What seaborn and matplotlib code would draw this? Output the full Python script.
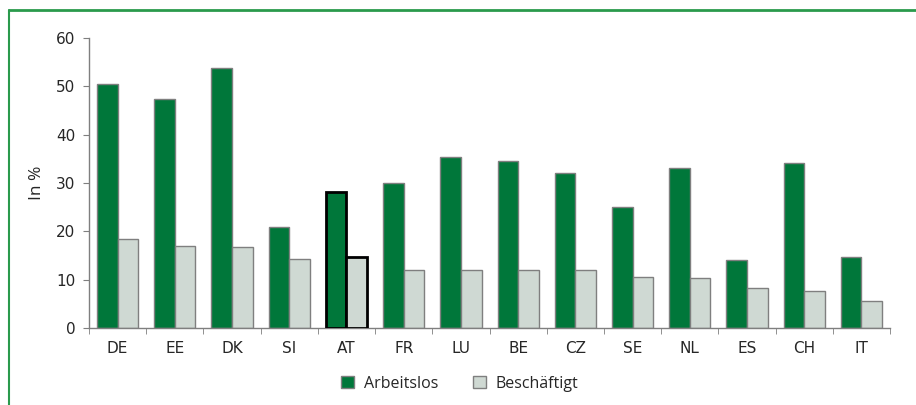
import numpy as np
import pandas as pd
import matplotlib.pyplot as plt
import seaborn as sns
from matplotlib.lines import Line2D

# Werte
countries = ['DE', 'EE', 'DK', 'SI', 'AT', 'FR', 'LU', 'BE', 'CZ', 'SE', 'NL', 'ES', 'CH', 'IT']
arbeitslos = [50.5, 47.3, 53.8, 21.0, 28.2, 30.1, 35.3, 34.5, 32.1, 25.1, 33.1, 14.1, 34.1, 14.6]
beschaeftigt = [18.4, 17.0, 16.7, 14.3, 14.6, 12.0, 12.0, 12.0, 12.0, 10.6, 10.4, 8.2, 7.6, 5.6]
series_names = ['Arbeitslos', 'Beschäftigt']

df = pd.DataFrame({
    'Land': countries * 2,
    'Wert': arbeitslos + beschaeftigt,
    'Gruppe': [series_names[0]] * len(countries) + [series_names[1]] * len(countries),
})

sns.set_style('white')
plt.rcParams['font.family'] = ['DejaVu Sans']

green = '#00773a'
light = '#cfd9d3'
edge = '#7f7f7f'

fig = plt.figure(figsize=(9.16, 4.05), dpi=100)
ax = fig.add_axes([0.0972, 0.190, 0.8744, 0.716])

sns.barplot(data=df, x='Land', y='Wert', hue='Gruppe', order=countries,
            hue_order=series_names, palette=[green, light], width=0.72,
            edgecolor=edge, linewidth=1, saturation=1, ax=ax)

# AT hervorheben
hl = countries.index('AT')
for cont in ax.containers:
    cont.patches[hl].set_edgecolor('black')
    cont.patches[hl].set_linewidth(2)
    cont.patches[hl].set_zorder(3)

ax.set_ylim(0, 60)
ax.set_yticks(np.arange(0, 61, 10))
ax.set_xlim(-0.5, len(countries) - 0.5)
ax.set_xlabel('')
ax.set_ylabel('In %', fontsize=12.5, family='Open Sans', labelpad=8)

for s in ['top', 'right']:
    ax.spines[s].set_visible(False)
for s in ['left', 'bottom']:
    ax.spines[s].set_color(edge)
    ax.spines[s].set_linewidth(1)

ax.tick_params(axis='y', length=4, color=edge, labelsize=11, direction='out', left=True, pad=6)
ax.tick_params(axis='x', which='major', length=0, labelsize=11, pad=9)
ax.set_xticks(np.arange(-0.5, len(countries), 1), minor=True)
ax.tick_params(axis='x', which='minor', length=4, color=edge, direction='out', bottom=True)

sns.move_legend(ax, 'upper center', bbox_to_anchor=(0.463, -0.115), ncol=2, frameon=False,
                title=None, fontsize=11.5, handlelength=0.8, handleheight=0.8,
                columnspacing=2.2, handletextpad=0.6)
for t in ax.get_legend().get_texts():
    t.set_family('Open Sans')

# gruener Rahmen
frame = '#2a9a4c'
fig.add_artist(Line2D([8.5 / 916, 1.0], [1 - 10 / 405, 1 - 10 / 405], color=frame, lw=2,
                      transform=fig.transFigure))
fig.add_artist(Line2D([8.5 / 916, 8.5 / 916], [0.0, 1 - 10 / 405], color=frame, lw=1.5,
                      transform=fig.transFigure))

fig.savefig('out.png', dpi=100)
